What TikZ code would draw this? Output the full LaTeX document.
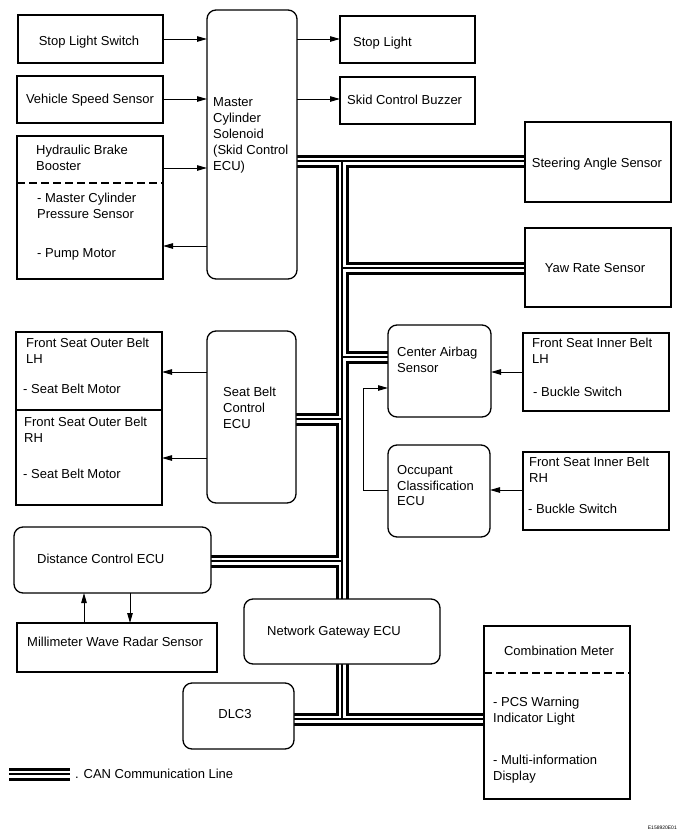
\documentclass[tikz,border=0pt]{standalone}
\usepackage{fontspec}
\setmainfont{Liberation Sans}
\usetikzlibrary{arrows.meta}
\pgfdeclarelayer{background}
\pgfsetlayers{background,main}
\begin{document}
\begin{tikzpicture}[x=1pt,y=-1pt,
  box/.style={draw, line width=1.3pt, fill=white, anchor=north west, inner sep=0pt, outer sep=0pt},
  rbox/.style={box, rounded corners=9pt},
  txt/.style={font=\fontsize{13}{15.5}\selectfont, inner sep=0pt, align=left, anchor=base west},
  ctxt/.style={txt, anchor=base, align=center},
  arr/.style={line width=1pt, -{Triangle[length=10pt,width=5.5pt]}},
  sep/.style={line width=1.3pt, dash pattern=on 8pt off 4pt}]
\useasboundingbox (0,0) rectangle (683,838);

% boxes
\node[box, minimum width=145pt, minimum height=48pt] (sls) at (18,15) {};
\node[box, minimum width=146pt, minimum height=47pt] (vss) at (17,76) {};
\node[box, minimum width=146pt, minimum height=143pt] (hbb) at (17,136) {};
\node[rbox, minimum width=90pt, minimum height=269pt] (mcs) at (207,10) {};
\node[box, minimum width=135pt, minimum height=47pt] (sl) at (340,16) {};
\node[box, minimum width=135pt, minimum height=47pt] (scb) at (340,77) {};
\node[box, minimum width=146pt, minimum height=80pt] (sas) at (525,122) {};
\node[box, minimum width=146pt, minimum height=79pt] (yrs) at (525,228) {};
\node[box, minimum width=146pt, minimum height=78pt] (fsol) at (16,332) {};
\node[box, minimum width=146pt, minimum height=95pt] (fsor) at (16,410) {};
\node[rbox, minimum width=89pt, minimum height=172pt] (sbc) at (207,331) {};
\node[rbox, minimum width=103pt, minimum height=92pt] (cas) at (388,325) {};
\node[box, minimum width=146pt, minimum height=78pt] (fsil) at (523,333) {};
\node[rbox, minimum width=102pt, minimum height=92pt] (occ) at (388,445) {};
\node[box, minimum width=146pt, minimum height=78pt] (fsir) at (523,452) {};
\node[rbox, minimum width=197pt, minimum height=66pt] (dce) at (14,527) {};
\node[box, minimum width=200pt, minimum height=49pt] (mwr) at (17,623) {};
\node[rbox, minimum width=196pt, minimum height=65pt] (ngw) at (244,599) {};
\node[rbox, minimum width=111pt, minimum height=66pt] (dlc) at (183,683) {};
\node[box, minimum width=146pt, minimum height=173pt] (cmb) at (484,626) {};

% dashed separators
\draw[sep] (hbb.west |- 0,183) -- (hbb.east |- 0,183);
\draw[sep] (cmb.west |- 0,673) -- (cmb.east |- 0,673);

% texts (base anchor = baseline of the last line)
\node[ctxt] (t-sls) at (89,45.5) {Stop Light Switch};
\node[ctxt] (t-vss) at (90,103.5) {Vehicle Speed Sensor};
\node[txt] (t-hbb1) at (36,170) {Hydraulic Brake\\Booster};
\node[txt] (t-hbb2) at (37,218) {- Master Cylinder\\Pressure Sensor};
\node[txt] (t-hbb3) at (37,257.5) {- Pump Motor};
\node[txt, font=\fontsize{13}{16}\selectfont] (t-mcs) at (213,170.5) {Master\\Cylinder\\Solenoid\\(Skid Control\\ECU)};
\node[txt] (t-sl) at (353,46.5) {Stop Light};
\node[txt] (t-scb) at (347,104.5) {Skid Control Buzzer};
\node[ctxt] (t-sas) at (597,167.5) {Steering Angle Sensor};
\node[ctxt] (t-yrs) at (595,272.5) {Yaw Rate Sensor};
\node[txt] (t-fsol1) at (26,363) {Front Seat Outer Belt\\LH};
\node[txt] (t-fsol2) at (23,393.5) {- Seat Belt Motor};
\node[txt] (t-fsor1) at (24,442) {Front Seat Outer Belt\\RH};
\node[txt] (t-fsor2) at (23,478.5) {- Seat Belt Motor};
\node[txt, font=\fontsize{13}{16}\selectfont] (t-sbc) at (223,428.5) {Seat Belt\\Control\\ECU};
\node[txt] (t-cas) at (397,372) {Center Airbag\\Sensor};
\node[txt] (t-fsil1) at (532,363) {Front Seat Inner Belt\\LH};
\node[txt] (t-fsil2) at (533,396.5) {- Buckle Switch};
\node[txt] (t-occ) at (397,505.5) {Occupant\\Classification\\ECU};
\node[txt] (t-fsir1) at (529,482) {Front Seat Inner Belt\\RH};
\node[txt] (t-fsir2) at (528,513.5) {- Buckle Switch};
\node[txt] (t-dce) at (37,563.5) {Distance Control ECU};
\node[txt] (t-mwr) at (27,646.5) {Millimeter Wave Radar Sensor};
\node[txt] (t-ngw) at (267,635.5) {Network Gateway ECU};
\node[ctxt] (t-dlc) at (235,718.5) {DLC3};
\node[ctxt] (t-cmb1) at (559,655.5) {Combination Meter};
\node[txt] (t-cmb2) at (493,722) {- PCS Warning\\Indicator Light};
\node[txt] (t-cmb3) at (493,780) {- Multi-information\\Display};
\node[txt] (t-leg) at (75,778.5) {. CAN Communication Line};
\node[txt, anchor=base east, font=\fontsize{5}{6}\selectfont] (t-id) at (677,829) {E158920E01};

% arrows
\draw[arr] (sls.east |- 0,39) -- (mcs.west |- 0,39);
\draw[arr] (vss.east |- 0,99) -- (mcs.west |- 0,99);
\draw[arr] (hbb.east |- 0,168) -- (mcs.west |- 0,168);
\draw[arr] (mcs.west |- 0,246) -- (hbb.east |- 0,246);
\draw[arr] (mcs.east |- 0,39) -- (sl.west |- 0,39);
\draw[arr] (mcs.east |- 0,99) -- (scb.west |- 0,99);
\draw[arr] (sbc.west |- 0,372) -- (fsol.east |- 0,372);
\draw[arr] (sbc.west |- 0,458) -- (fsor.east |- 0,458);
\draw[arr] (fsil.west |- 0,372) -- (cas.east |- 0,372);
\draw[arr] (fsir.west |- 0,490) -- (occ.east |- 0,490);
\coordinate (bend) at (363,388);
\draw[arr] (occ.west |- 0,490) -| (bend) -- (cas.west |- bend);
\draw[arr] (mwr.north -| 84,0) -- (dce.south -| 84,0);
\draw[arr] (dce.south -| 130,0) -- (mwr.north -| 130,0);

% CAN bus
\coordinate (jTop) at (342,161);
\coordinate (jYaw) at (342,268);
\coordinate (jAir) at (342,357);
\coordinate (jSeat) at (342,419);
\coordinate (jDist) at (342,561);
\coordinate (jBot) at (342,719);
\coordinate (lgA) at (9,774);
\coordinate (lgB) at (70,774);
\begin{pgfonlayer}{background}
\foreach \w/\c in {13pt/black,7pt/white,1.2pt/black}{
  \draw[line width=\w, draw=\c]
    (mcs.east |- jTop) -- (sas.west |- jTop)
    (jTop) -- (jBot)
    (jYaw) -- (yrs.west |- jYaw)
    (jAir) -- (cas.west |- jAir)
    (sbc.east |- jSeat) -- (jSeat)
    (dce.east |- jDist) -- (jDist)
    (dlc.east |- jBot) -- (cmb.west |- jBot)
    (lgA) -- (lgB);
}
\end{pgfonlayer}
\end{tikzpicture}
\end{document}
